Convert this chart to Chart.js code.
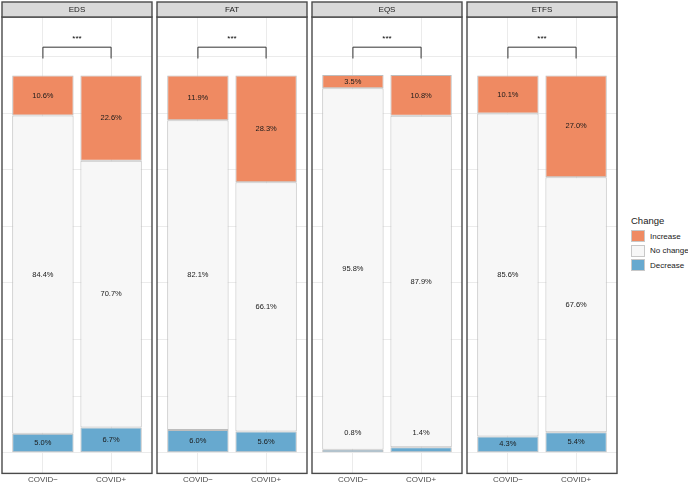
<!DOCTYPE html>
<html>
<head>
<meta charset="utf-8">
<script src="https://cdn.jsdelivr.net/npm/chart.js@4/dist/chart.umd.min.js"></script>
<style>
  body { margin: 0; background: #fff; }
  #wrap { position: relative; width: 688px; height: 486px; font-family: 'Liberation Sans', Arial, sans-serif; }
  .panel { position: absolute; top: 0; width: 154px; height: 486px; }
  #legend { position: absolute; left: 631px; top: 215px; font-size: 8px; color: #1a1a1a; white-space: nowrap; }
  #legend .title { font-size: 9.5px; margin-bottom: 3px; }
  #legend .row { display: flex; align-items: center; height: 14.5px; }
  #legend .key { width: 14px; height: 12px; border: 1px solid #c8c8c8; margin-right: 5px; box-sizing: border-box; flex: none; }
</style>
</head>
<body>
<div id="wrap">
  <div class="panel" style="left:0px"><canvas id="c0"></canvas></div>
  <div class="panel" style="left:155px"><canvas id="c1"></canvas></div>
  <div class="panel" style="left:310px"><canvas id="c2"></canvas></div>
  <div class="panel" style="left:465px"><canvas id="c3"></canvas></div>
  <div id="legend"></div>
</div>
<script>
(function() {
    'use strict';

    // Data (percent of participants)
    const panels = ['EDS', 'FAT', 'EQS', 'ETFS'];
    const groups = ['COVID\u2212', 'COVID+'];
    const decrease = [[5.0, 6.7], [6.0, 5.6], [0.8, 1.4], [4.3, 5.4]];
    const noChange = [[84.4, 70.7], [82.1, 66.1], [95.8, 87.9], [85.6, 67.6]];
    const increase = [[10.6, 22.6], [11.9, 28.3], [3.5, 10.8], [10.1, 27.0]];
    const signif = ['***', '***', '***', '***'];
    const gridValues = [0, 15, 30, 45, 60, 75, 90, 105];

    const colors = {
        increase: '#ef8a62',
        noChange: '#f7f7f7',
        decrease: '#67a9cf',
        outline: '#bdbdbd',
        grid: '#ebebeb',
        border: '#4a4a4a',
        strip: '#d9d9d9',
        text: '#1a1a1a'
    };
    const FONT = "'Liberation Sans', Arial, sans-serif";

    // Facet strip, panel border, bracket and bar labels
    const facetPlugin = {
        id: 'facet',
        afterDraw(chart) {
            const ctx = chart.ctx;
            const area = chart.chartArea;
            const xs = chart.scales.x;
            const ys = chart.scales.y;
            const idx = chart.options.plugins.facet.index;

            // bar labels
            ctx.save();
            ctx.font = '7.5px ' + FONT;
            ctx.fillStyle = colors.text;
            ctx.textAlign = 'center';
            ctx.textBaseline = 'middle';
            chart.data.datasets.forEach((ds, di) => {
                const meta = chart.getDatasetMeta(di);
                meta.data.forEach((bar, i) => {
                    const v = ds.data[i].y;
                    let y = (bar.y + bar.base) / 2;
                    if (v < 2) y = ys.getPixelForValue(5.3);
                    ctx.fillText(v.toFixed(1) + '%', bar.x, y);
                });
            });
            ctx.restore();

            // significance bracket
            const x1 = xs.getPixelForValue(1);
            const x2 = xs.getPixelForValue(2);
            const yTop = ys.getPixelForValue(107.5);
            const yLeg = ys.getPixelForValue(104.5);
            ctx.save();
            ctx.strokeStyle = '#333';
            ctx.lineWidth = 1;
            ctx.beginPath();
            ctx.moveTo(x1, yLeg);
            ctx.lineTo(x1, yTop);
            ctx.lineTo(x2, yTop);
            ctx.lineTo(x2, yLeg);
            ctx.stroke();
            ctx.fillStyle = '#000';
            ctx.font = '8px ' + FONT;
            ctx.textAlign = 'center';
            ctx.textBaseline = 'middle';
            ctx.fillText(signif[idx], (x1 + x2) / 2, ys.getPixelForValue(109.6));
            ctx.restore();

            // panel border
            ctx.save();
            ctx.strokeStyle = colors.border;
            ctx.lineWidth = 1.4;
            ctx.strokeRect(area.left, area.top, area.right - area.left, area.bottom - area.top);

            // strip
            ctx.fillStyle = colors.strip;
            ctx.fillRect(area.left, 2, area.right - area.left, area.top - 2);
            ctx.strokeRect(area.left, 2, area.right - area.left, area.top - 2);
            ctx.fillStyle = colors.text;
            ctx.font = '8px ' + FONT;
            ctx.textAlign = 'center';
            ctx.textBaseline = 'middle';
            ctx.fillText(panels[idx], (area.left + area.right) / 2, (2 + area.top) / 2 + 0.5);
            ctx.restore();
        }
    };

    function makePanel(p) {
        const ctx = document.getElementById('c' + p).getContext('2d');
        const series = [
            { label: 'Decrease', values: decrease[p], color: colors.decrease },
            { label: 'No change', values: noChange[p], color: colors.noChange },
            { label: 'Increase', values: increase[p], color: colors.increase }
        ];
        new Chart(ctx, {
            type: 'bar',
            data: {
                datasets: series.map(s => ({
                    label: s.label,
                    data: s.values.map((v, i) => ({ x: i + 1, y: v })),
                    backgroundColor: s.color,
                    borderColor: colors.outline,
                    borderWidth: 1,
                    borderSkipped: false,
                    barPercentage: 0.9,
                    categoryPercentage: 1.0
                }))
            },
            options: {
                responsive: false,
                animation: false,
                layout: { padding: { top: 17, left: 2, right: 2, bottom: -1 } },
                scales: {
                    x: {
                        type: 'linear',
                        stacked: true,
                        offset: false,
                        min: 0.4,
                        max: 2.6,
                        afterBuildTicks: (axis) => { axis.ticks = [{ value: 1 }, { value: 2 }]; },
                        ticks: {
                            callback: (v) => groups[v - 1],
                            color: '#4d4d4d',
                            font: { size: 8, family: FONT },
                            padding: 2,
                            maxRotation: 0,
                            autoSkip: false
                        },
                        grid: { color: colors.grid, drawTicks: false, offset: false },
                        border: { display: false }
                    },
                    y: {
                        stacked: true,
                        min: -5.5,
                        max: 115.5,
                        afterBuildTicks: (axis) => { axis.ticks = gridValues.map(v => ({ value: v })); },
                        ticks: { display: false },
                        grid: { color: colors.grid, drawTicks: false },
                        border: { display: false }
                    }
                },
                plugins: {
                    legend: { display: false },
                    tooltip: { enabled: false },
                    facet: { index: p }
                }
            },
            plugins: [facetPlugin]
        });
    }

    document.querySelectorAll('canvas').forEach(c => { c.width = 154; c.height = 486; });
    panels.forEach((_, p) => makePanel(p));

    // Legend
    const legend = document.getElementById('legend');
    legend.innerHTML = '<div class="title">Change</div>' +
        [['Increase', colors.increase], ['No change', colors.noChange], ['Decrease', colors.decrease]]
            .map(([l, c]) => `<div class="row"><span class="key" style="background:${c}"></span>${l}</div>`).join('');
})();
</script>
</body>
</html>
